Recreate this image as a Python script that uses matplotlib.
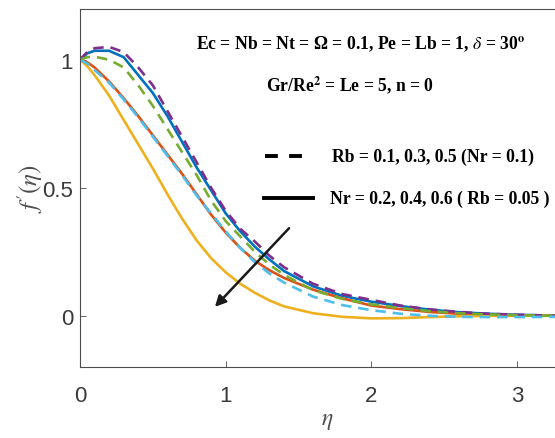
import matplotlib
matplotlib.use('Agg')
import matplotlib.pyplot as plt

plt.rcParams['mathtext.fontset'] = 'stix'

# eta grid and f'(eta) profiles
eta = [0, 0.05, 0.1, 0.2, 0.3, 0.4, 0.5, 0.6, 0.7, 0.8, 0.9, 1.0, 1.1, 1.2,
       1.3, 1.4, 1.6, 1.8, 2.0, 2.2, 2.4, 2.6, 2.8, 3.0, 3.3]

# dashed: Rb = 0.1, 0.3, 0.5 (Nr = 0.1)
rb_01 = [1.0, 1.03, 1.045, 1.05, 1.03, 0.97, 0.90, 0.80, 0.70, 0.60, 0.50, 0.41,
         0.34, 0.29, 0.235, 0.19, 0.125, 0.085, 0.062, 0.04, 0.025, 0.015, 0.008, 0.004, 0.0]
rb_03 = [1.0, 1.01, 1.012, 1.0, 0.97, 0.90, 0.82, 0.73, 0.64, 0.55, 0.45, 0.37,
         0.31, 0.25, 0.20, 0.16, 0.10, 0.066, 0.045, 0.03, 0.018, 0.01, 0.005, 0.002, 0.0]
rb_05 = [1.0, 0.985, 0.96, 0.91, 0.845, 0.775, 0.70, 0.625, 0.55, 0.47, 0.40, 0.33,
         0.265, 0.21, 0.165, 0.13, 0.075, 0.042, 0.022, 0.008, 0.0, -0.004, -0.005, -0.005, -0.004]

# solid: Nr = 0.2, 0.4, 0.6 (Rb = 0.05)
nr_02 = [1.0, 1.025, 1.035, 1.035, 1.01, 0.94, 0.87, 0.78, 0.68, 0.58, 0.49, 0.40,
         0.33, 0.27, 0.22, 0.175, 0.115, 0.078, 0.055, 0.038, 0.024, 0.014, 0.008, 0.004, 0.0]
nr_04 = [1.0, 0.99, 0.97, 0.915, 0.85, 0.78, 0.705, 0.63, 0.555, 0.475, 0.395, 0.325,
         0.265, 0.215, 0.178, 0.148, 0.102, 0.068, 0.04, 0.026, 0.015, 0.008, 0.004, 0.002, 0.0]
nr_06 = [1.0, 0.975, 0.94, 0.86, 0.765, 0.67, 0.575, 0.475, 0.38, 0.295, 0.225, 0.17,
         0.125, 0.09, 0.06, 0.037, 0.01, -0.004, -0.01, -0.009, -0.005, -0.002, 0.0, 0.0, 0.0]

xticks = [0, 1, 2, 3]
yticks = [0, 0.5, 1]
ytick_labels = ['0', '0.5', '1']

dashed = [(rb_01, '#7E2F8E'), (rb_03, '#77AC30'), (rb_05, '#4DBEEE')]
solid = [(nr_02, '#0072BD'), (nr_04, '#D95319'), (nr_06, '#EDB120')]

fig = plt.figure(figsize=(5.55, 4.39), dpi=100)
ax = fig.add_axes([0.1441, 0.1617, 0.8926, 0.8166])

for vals, c in solid:
    ax.plot(eta, vals, color=c, lw=1.9)
for vals, c in dashed:
    ax.plot(eta, vals, color=c, lw=1.9, ls=(0, (4, 2.6)))

ax.set_xlim(0, 3.4)
ax.set_ylim(-0.2, 1.2)
ax.set_xticks(xticks)
ax.set_yticks(yticks)
ax.set_yticklabels(ytick_labels)

gray = '#4d4d4d'
for s in ax.spines.values():
    s.set_color(gray)
    s.set_linewidth(0.8)
ax.tick_params(direction='in', length=4, width=0.6, colors=gray,
               labelsize=16, labelcolor='#3a3a3a')
ax.tick_params(axis='x', pad=13)
ax.tick_params(axis='y', pad=5)
for lbl in ax.get_xticklabels() + ax.get_yticklabels():
    lbl.set_family('Liberation Sans')

ax.set_xlabel(r'$\eta$', fontsize=17, color=gray, labelpad=1)
ax.set_ylabel(r"$f'(\eta)$", fontsize=18, color=gray, labelpad=-2)

serif = 'Liberation Serif'
fs = 12.7
ax.text(0.566, 0.904, r'Ec = Nb = Nt = $\mathregular{\Omega}$ = 0.1, Pe = Lb = 1, $\delta$ = 30$^{\mathbf{o}}$',
        transform=ax.transAxes, ha='center', va='center', fontsize=fs,
        family=serif, weight='bold')
ax.text(0.544, 0.787, r'Gr/Re$^{\mathbf{2}}$ = Le = 5, n = 0',
        transform=ax.transAxes, ha='center', va='center', fontsize=fs,
        family=serif, weight='bold')

# legend-like annotation
ax.plot([1.27, 1.58], [0.624, 0.624], color='black',
        lw=2.8, ls=(0, (3.3, 2.9)), clip_on=False)
ax.plot([1.26, 1.6], [0.459, 0.459], color='black', lw=2.8, clip_on=False)
ax.text(1.73, 0.624, 'Rb = 0.1, 0.3, 0.5 (Nr = 0.1)', ha='left', va='center',
        fontsize=fs, family=serif, weight='bold')
ax.text(1.715, 0.459, 'Nr = 0.2, 0.4, 0.6 ( Rb = 0.05 )', ha='left', va='center',
        fontsize=fs, family=serif, weight='bold')

ax.annotate('', xy=(0.913, 0.027), xytext=(1.448, 0.35),
            arrowprops=dict(arrowstyle='-|>', color='#1a1a1a', lw=1.8,
                            mutation_scale=16))

fig.savefig('out.png', dpi=100)
